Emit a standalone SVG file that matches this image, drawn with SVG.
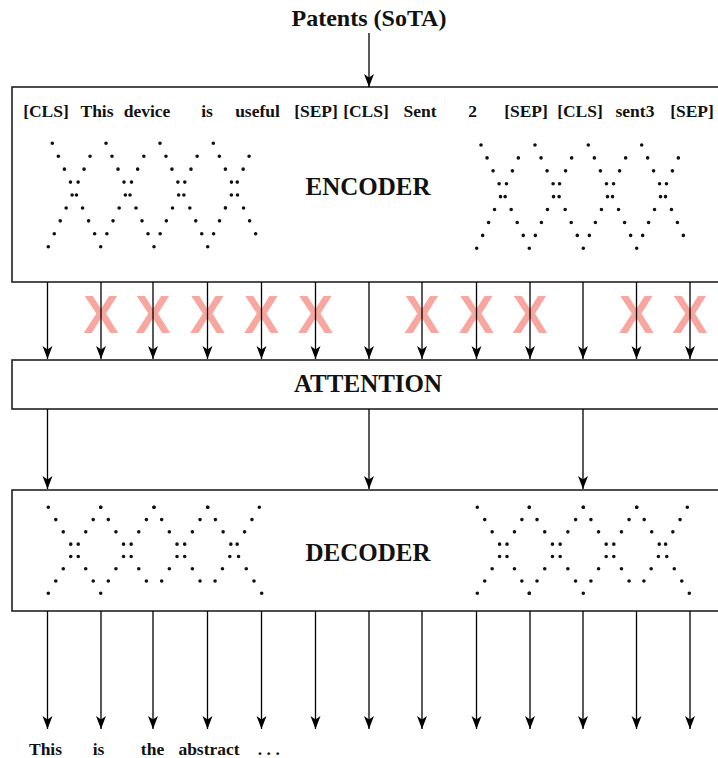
<svg xmlns="http://www.w3.org/2000/svg" width="718" height="758" viewBox="0 0 718 758">
  <style>
    .box { fill: #ffffff; stroke: #222222; stroke-width: 1.6; }
    .tok { font-family: "Liberation Serif", "Times New Roman", serif; font-weight: bold; font-size: 17.5px; fill: #111111; text-anchor: middle; }
    .big { font-family: "Liberation Serif", "Times New Roman", serif; font-weight: bold; font-size: 25px; fill: #111111; text-anchor: middle; }
    .title { font-family: "Liberation Serif", "Times New Roman", serif; font-weight: bold; font-size: 24px; fill: #111111; text-anchor: middle; }
    .dots { fill: none; stroke: #111111; stroke-width: 3.6; stroke-linecap: round; stroke-dasharray: 0 1; }
    .xmark { font-family: "Liberation Sans", Arial, sans-serif; font-weight: bold; font-size: 53px; fill: #F7A7A0; text-anchor: middle; }
    .conn line { stroke: #000000; stroke-width: 1.3; marker-end: url(#ah); }
  </style>
  <defs>
    <marker id="ah" markerUnits="userSpaceOnUse" markerWidth="14" markerHeight="12" refX="13" refY="6" orient="auto" overflow="visible">
      <path d="M0,1 L13,6 L0,11 L3.5,6 z" fill="#000000"/>
    </marker>
  </defs>

  <rect width="718" height="758" fill="#ffffff"/>

  <g id="title">
    <text class="title" x="369" y="26">Patents (SoTA)</text>
  </g>

  <g id="encoder">
    <rect class="box" x="12" y="87" width="720" height="195"/>
    <text class="tok" x="46" y="117">[CLS]</text>
    <text class="tok" x="97" y="117">This</text>
    <text class="tok" x="147" y="117">device</text>
    <text class="tok" x="207" y="117">is</text>
    <text class="tok" x="257.5" y="117">useful</text>
    <text class="tok" x="316" y="117">[SEP]</text>
    <text class="tok" x="366" y="117">[CLS]</text>
    <text class="tok" x="420" y="117">Sent</text>
    <text class="tok" x="472.5" y="117">2</text>
    <text class="tok" x="526" y="117">[SEP]</text>
    <text class="tok" x="580" y="117">[CLS]</text>
    <text class="tok" x="635" y="117">sent3</text>
    <text class="tok" x="692" y="117">[SEP]</text>
    <text class="big" x="368" y="195">ENCODER</text>
    <g id="enc-dots-left">
      <path class="dots" pathLength="8" d="M48.3,246.7 L96,143.3"/>
      <path class="dots" pathLength="8" d="M52.3,143.3 L100.7,246.7"/>
      <path class="dots" pathLength="8" d="M100.7,246.7 L150,143.3"/>
      <path class="dots" pathLength="8" d="M106,143.3 L154,246.7"/>
      <path class="dots" pathLength="8" d="M154,246.7 L203.3,143.3"/>
      <path class="dots" pathLength="8" d="M160,143.3 L207.7,246.7"/>
      <path class="dots" pathLength="8" d="M207.7,246.7 L255,143.3"/>
      <path class="dots" pathLength="8" d="M213.3,143.3 L261.7,246.7"/>
    </g>
    <g id="enc-dots-right">
      <path class="dots" pathLength="8" d="M476.7,248.3 L524.3,145"/>
      <path class="dots" pathLength="8" d="M481,145 L529.3,248.3"/>
      <path class="dots" pathLength="8" d="M529.3,248.3 L577.7,145"/>
      <path class="dots" pathLength="8" d="M535,145 L583.3,248.3"/>
      <path class="dots" pathLength="8" d="M583.3,248.3 L631.7,145"/>
      <path class="dots" pathLength="8" d="M588.3,145 L636.7,248.3"/>
      <path class="dots" pathLength="8" d="M636.7,248.3 L684.3,145"/>
      <path class="dots" pathLength="8" d="M641.7,145 L689.3,248.3"/>
    </g>
  </g>

  <g id="attention">
    <rect class="box" x="12" y="360" width="720" height="49"/>
    <text class="big" x="368" y="392">ATTENTION</text>
  </g>

  <g id="decoder">
    <rect class="box" x="12" y="490" width="720" height="121"/>
    <text class="big" x="368" y="561">DECODER</text>
    <g id="dec-dots-left">
      <path class="dots" pathLength="7" d="M48.3,507.3 L100.7,593.3"/>
      <path class="dots" pathLength="7" d="M100.7,507.3 L48.3,593.3"/>
      <path class="dots" pathLength="7" d="M100.7,507.3 L154,593.3"/>
      <path class="dots" pathLength="7" d="M154,507.3 L100.7,593.3"/>
      <path class="dots" pathLength="7" d="M154,507.3 L207.7,593.3"/>
      <path class="dots" pathLength="7" d="M207.7,507.3 L154,593.3"/>
      <path class="dots" pathLength="7" d="M207.7,507.3 L261.7,593.3"/>
      <path class="dots" pathLength="7" d="M259.3,507.3 L207.7,593.3"/>
    </g>
    <g id="dec-dots-right">
      <path class="dots" pathLength="7" d="M477.3,507.3 L529.3,593.3"/>
      <path class="dots" pathLength="7" d="M529.3,507.3 L477.3,593.3"/>
      <path class="dots" pathLength="7" d="M529.3,507.3 L583.3,593.3"/>
      <path class="dots" pathLength="7" d="M583.3,507.3 L529.3,593.3"/>
      <path class="dots" pathLength="7" d="M583.3,507.3 L636.7,593.3"/>
      <path class="dots" pathLength="7" d="M636.7,507.3 L583.3,593.3"/>
      <path class="dots" pathLength="7" d="M636.7,507.3 L689.3,593.3"/>
      <path class="dots" pathLength="7" d="M687.3,507.3 L636.7,593.3"/>
    </g>
  </g>

  <g id="masks">
    <text class="xmark" x="101" y="333">X</text>
    <text class="xmark" x="153" y="333">X</text>
    <text class="xmark" x="207.5" y="333">X</text>
    <text class="xmark" x="261.5" y="333">X</text>
    <text class="xmark" x="315.5" y="333">X</text>
    <text class="xmark" x="422" y="333">X</text>
    <text class="xmark" x="476.5" y="333">X</text>
    <text class="xmark" x="530" y="333">X</text>
    <text class="xmark" x="636.5" y="333">X</text>
    <text class="xmark" x="690" y="333">X</text>
  </g>

  <g id="output-words">
    <text class="tok" x="45.5" y="755">This</text>
    <text class="tok" x="98.5" y="755">is</text>
    <text class="tok" x="152.5" y="755">the</text>
    <text class="tok" x="209" y="755">abstract</text>
    <text class="tok" x="271" y="755" letter-spacing="4.5">...</text>
  </g>

  <g id="connectors" class="conn">
    <line x1="369" y1="33" x2="369" y2="87"/>

    <line x1="47.5" y1="282" x2="47.5" y2="359"/>
    <line x1="101" y1="282" x2="101" y2="359"/>
    <line x1="153" y1="282" x2="153" y2="359"/>
    <line x1="207.5" y1="282" x2="207.5" y2="359"/>
    <line x1="261.5" y1="282" x2="261.5" y2="359"/>
    <line x1="315.5" y1="282" x2="315.5" y2="359"/>
    <line x1="369" y1="282" x2="369" y2="359"/>
    <line x1="422" y1="282" x2="422" y2="359"/>
    <line x1="476.5" y1="282" x2="476.5" y2="359"/>
    <line x1="530" y1="282" x2="530" y2="359"/>
    <line x1="583" y1="282" x2="583" y2="359"/>
    <line x1="636.5" y1="282" x2="636.5" y2="359"/>
    <line x1="690" y1="282" x2="690" y2="359"/>

    <line x1="47.5" y1="409" x2="47.5" y2="489"/>
    <line x1="369" y1="409" x2="369" y2="489"/>
    <line x1="583" y1="409" x2="583" y2="489"/>

    <line x1="47.5" y1="611" x2="47.5" y2="729"/>
    <line x1="101" y1="611" x2="101" y2="729"/>
    <line x1="153" y1="611" x2="153" y2="729"/>
    <line x1="207.5" y1="611" x2="207.5" y2="729"/>
    <line x1="261.5" y1="611" x2="261.5" y2="729"/>
    <line x1="315.5" y1="611" x2="315.5" y2="729"/>
    <line x1="369" y1="611" x2="369" y2="729"/>
    <line x1="422" y1="611" x2="422" y2="729"/>
    <line x1="476.5" y1="611" x2="476.5" y2="729"/>
    <line x1="530" y1="611" x2="530" y2="729"/>
    <line x1="583" y1="611" x2="583" y2="729"/>
    <line x1="636.5" y1="611" x2="636.5" y2="729"/>
    <line x1="690" y1="611" x2="690" y2="729"/>
  </g>
</svg>
